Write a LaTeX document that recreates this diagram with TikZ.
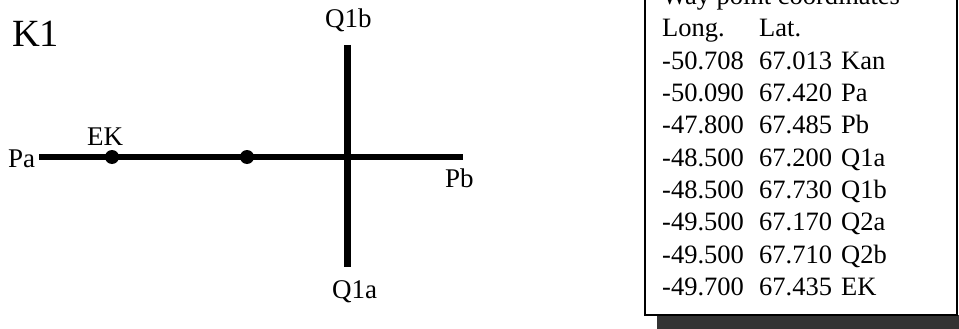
\documentclass[tikz,border=0pt]{standalone}
\usepackage{fontspec}
\setmainfont{Liberation Serif}
\begin{document}
\begin{tikzpicture}[x=1pt,y=1pt,
  lbl/.style={anchor=base west,inner sep=0pt,font=\fontsize{27}{32}\selectfont},
  tbl/.style={anchor=base west,inner sep=0pt,font=\fontsize{26.5}{32}\selectfont},
  road/.style={line width=6.5pt},
  wp/.style={circle,fill=black,inner sep=0pt,minimum size=14pt}]
\useasboundingbox (0,0) rectangle (959,-329);
% left diagram
\node[anchor=base west,inner sep=0pt,font=\fontsize{38.5}{44}\selectfont] (k1) at (12,-47) {K1};
\coordinate (paend) at (39,-157);
\coordinate (pbend) at (463,-157);
\coordinate (qbend) at (347,-45);
\coordinate (qaend) at (347,-267);
\draw[road] (paend) -- (pbend);
\draw[road,line width=7pt] (qbend) -- (qaend);
\node[wp] (ek) at (112,-157) {};
\node[wp] (mid) at (247,-157) {};
\node[lbl] (pa) at (8,-167) {Pa};
\node[lbl] (eklbl) at (87,-145) {EK};
\node[lbl] (q1b) at (325,-28) {Q1b};
\node[lbl] (q1a) at (332,-298) {Q1a};
\node[lbl] (pb) at (445,-187) {Pb};
% table box
\fill[black!80] (657,-315) rectangle (959,-329);
\draw[line width=1.5pt,fill=white] (645,5) rectangle (957,-315);
\node[tbl] (title) at (662,-5) {Way point coordinates};
\node[tbl] (hlong) at (662,-37) {Long.};
\node[tbl] (hlat) at (759,-37) {Lat.};
\foreach \i/\lo/\la/\nm in {1/-50.708/67.013/Kan,2/-50.090/67.420/Pa,3/-47.800/67.485/Pb,4/-48.500/67.200/Q1a,5/-48.500/67.730/Q1b,6/-49.500/67.170/Q2a,7/-49.500/67.710/Q2b,8/-49.700/67.435/EK}{
  \node[tbl] (lo\i) at (662,{-37-32.3*\i}) {\lo};
  \node[tbl] (la\i) at (759,{-37-32.3*\i}) {\la};
  \node[tbl] (nm\i) at (841,{-37-32.3*\i}) {\nm};
}
\end{tikzpicture}
\end{document}
